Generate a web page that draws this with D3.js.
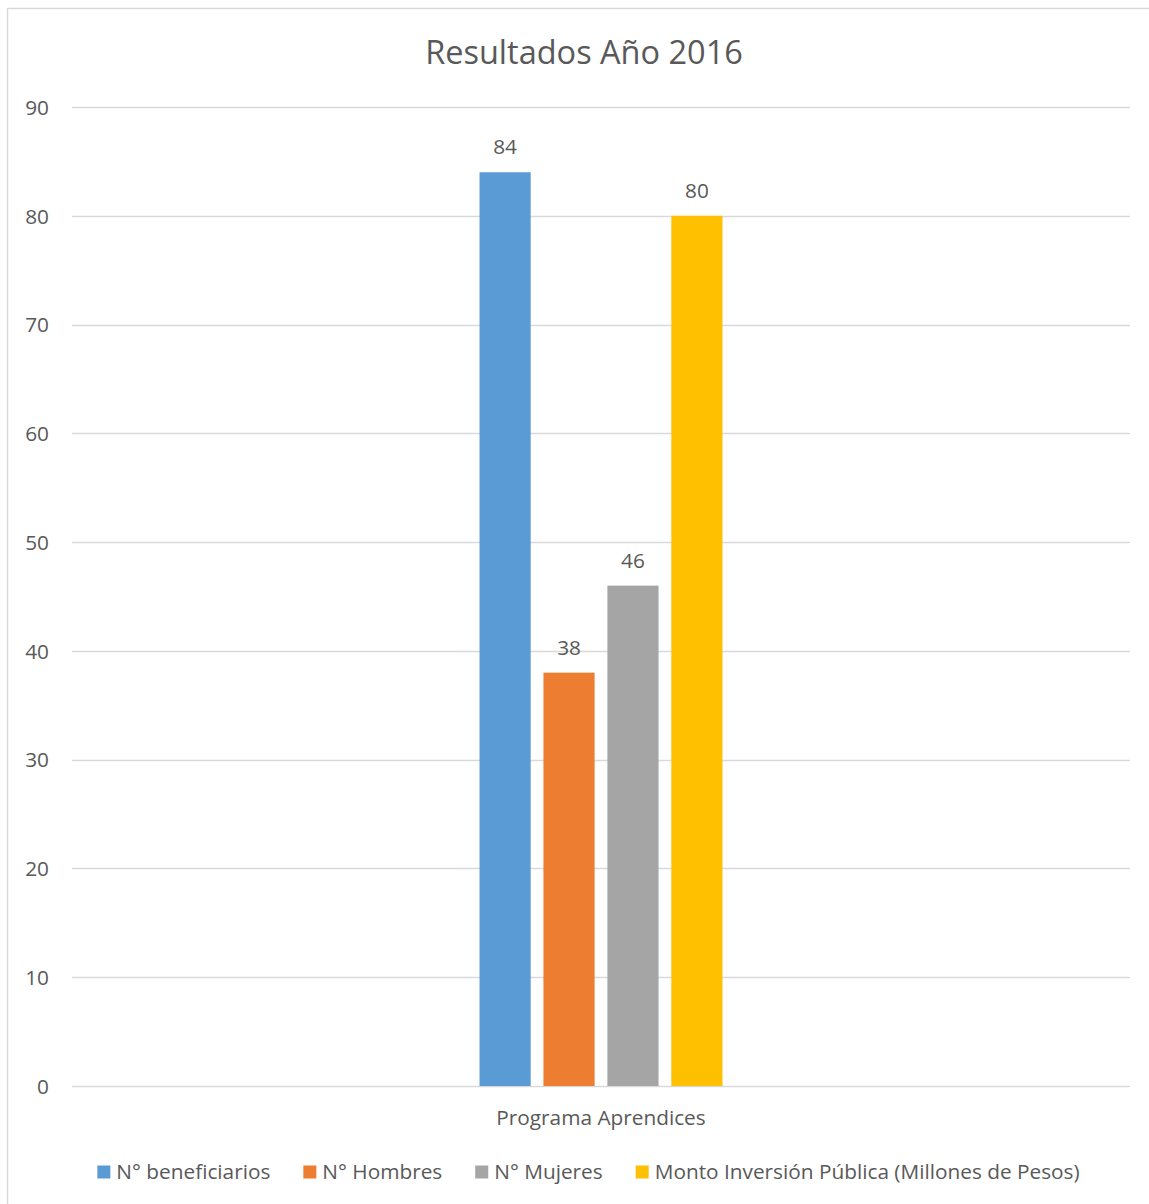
<!DOCTYPE html>
<html>
<head>
<meta charset="utf-8">
<script src="https://cdn.jsdelivr.net/npm/d3@7"></script>
<style>
  body { margin: 0; background: #fff; }
  text { font-family: "Open Sans", sans-serif; fill: #595959; }
</style>
</head>
<body>
<div id="chart"></div>
<script>
var categories = ["Programa Aprendices"];
var seriesNames = ["N° beneficiarios", "N° Hombres", "N° Mujeres", "Monto Inversión Pública (Millones de Pesos)"];
var seriesValues = [84, 38, 46, 80];
var seriesColors = ["#5b9bd5", "#ed7d31", "#a5a5a5", "#ffc000"];
var yTicks = [0, 10, 20, 30, 40, 50, 60, 70, 80, 90];

var width = 1149, height = 1204;
var plotLeft = 72, plotRight = 1130, plotTop = 107, plotBottom = 1086;
var fs = "20.8px";

var svg = d3.select("#chart").append("svg")
    .attr("width", width)
    .attr("height", height);

// chart border
svg.append("rect")
    .attr("x", 7.5).attr("y", 8.5)
    .attr("width", 1160).attr("height", 1210)
    .style("fill", "none")
    .style("stroke", "#d9d9d9")
    .style("stroke-width", 1.5);

/* Scales */
var yScale = d3.scaleLinear().domain([0, 90]).range([plotBottom, plotTop]);
var x0 = d3.scaleBand().domain(categories).range([plotLeft, plotRight])
    .paddingInner(0.6265).paddingOuter(0.6265);
var x1 = d3.scaleBand().domain(seriesNames).range([0, x0.bandwidth()])
    .paddingInner(0.2).paddingOuter(0);

// title
svg.append("text")
    .attr("x", 584).attr("y", 64)
    .attr("text-anchor", "middle")
    .style("font-size", "32.5px")
    .text("Resultados Año 2016");

// grid lines
svg.append("g").selectAll("line")
    .data(yTicks).enter()
    .append("line")
    .attr("x1", plotLeft).attr("x2", plotRight)
    .attr("y1", d => Math.round(yScale(d)) + 0.5)
    .attr("y2", d => Math.round(yScale(d)) + 0.5)
    .style("stroke", "#d9d9d9")
    .style("stroke-width", 1.5);

// y axis labels
var yAxis = d3.axisLeft(yScale).tickValues(yTicks).tickSize(0).tickPadding(0);
svg.append("g")
    .attr("transform", `translate(49, 0)`)
    .call(yAxis)
    .call(g => g.select(".domain").remove())
    .selectAll("text")
        .style("font-size", fs)
        .attr("dy", "0.35em");

// bars
var groups = svg.append("g").selectAll("g")
    .data(categories).enter()
    .append("g")
    .attr("transform", d => `translate(${x0(d)}, 0)`);

groups.selectAll("rect")
    .data(seriesNames.map((s, i) => ({ name: s, value: seriesValues[i], color: seriesColors[i] })))
    .enter()
    .append("rect")
    .attr("x", d => x1(d.name))
    .attr("width", x1.bandwidth())
    .attr("y", d => yScale(d.value))
    .attr("height", d => yScale(0) - yScale(d.value))
    .style("fill", d => d.color);

groups.selectAll(".val")
    .data(seriesNames.map((s, i) => ({ name: s, value: seriesValues[i] })))
    .enter()
    .append("text")
    .attr("class", "val")
    .attr("x", d => x1(d.name) + x1.bandwidth() / 2)
    .attr("y", d => yScale(d.value) - 18)
    .attr("text-anchor", "middle")
    .style("font-size", fs)
    .text(d => d.value);

// category axis labels
var xAxis = d3.axisBottom(x0).tickSize(0).tickPadding(0);
svg.append("g")
    .attr("transform", `translate(0, 1125)`)
    .call(xAxis)
    .call(g => g.select(".domain").remove())
    .selectAll("text")
        .attr("dy", 0)
        .style("font-size", fs);

// legend
var legend = svg.append("g").attr("class", "legend");
var items = legend.selectAll("g")
    .data(seriesNames).enter()
    .append("g");
items.append("rect")
    .attr("width", 13).attr("height", 13)
    .attr("y", -6.5)
    .style("fill", (d, i) => seriesColors[i]);
items.append("text")
    .attr("x", 19)
    .attr("dy", "0.35em")
    .style("font-size", fs)
    .text(d => d);

var widths = [];
items.each(function () { widths.push(this.getBBox().width); });
var gap = 33;
var total = d3.sum(widths) + gap * (widths.length - 1);
var lx = 588.5 - total / 2;
items.attr("transform", function (d, i) {
    var t = `translate(${lx}, 1172)`;
    lx += widths[i] + gap;
    return t;
});
</script>
</body>
</html>
